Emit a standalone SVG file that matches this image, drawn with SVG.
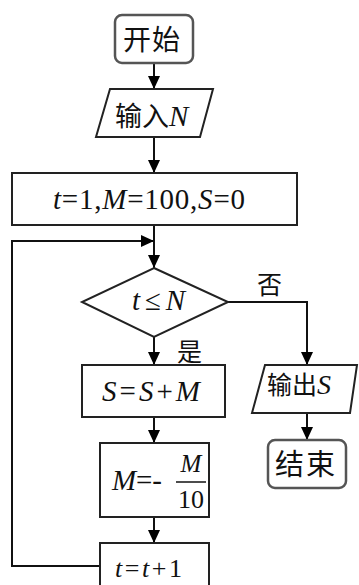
<svg xmlns="http://www.w3.org/2000/svg" width="359" height="585" viewBox="0 0 359 585">
<defs>
<marker id="ah" markerUnits="userSpaceOnUse" markerWidth="13" markerHeight="12" refX="13" refY="6" orient="auto">
<path d="M0,0 L13,6 L0,12 Z" fill="#000"/>
</marker>
<style>
.box{fill:#fff;stroke:#222;stroke-width:2}
.term{fill:#fff;stroke:#555;stroke-width:2.5}
.ln{fill:none;stroke:#111;stroke-width:2;marker-end:url(#ah)}
.cn{font-family:"Noto Sans CJK SC","Noto Sans",sans-serif;fill:#111}
.m{font-family:"Liberation Serif","Times New Roman",serif;fill:#111}
.i{font-style:italic}
</style>
</defs>
<rect width="359" height="585" fill="#fff"/>
<g id="connectors">
<path class="ln" d="M154,63 L154,89"/>
<path class="ln" d="M154,137 L154,173"/>
<path class="ln" d="M154,225 L154,268"/>
<path class="ln" d="M100,566 L12,566 L12,241 L154,241"/>
<path class="ln" d="M154,337 L154,365"/>
<path class="ln" d="M228,302 L307,302 L307,365"/>
<path class="ln" d="M154,417 L154,443"/>
<path class="ln" d="M154,517 L154,543"/>
<path class="ln" d="M307,413 L307,440"/>
</g>
<g id="start">
<rect class="term" x="115" y="15" width="78" height="48" rx="7"/>
<text class="cn" x="123" y="50" font-size="28" textLength="57">开始</text>
</g>
<g id="input">
<polygon class="box" points="110,89 213,89 200,137 96,137"/>
<text x="115" y="126" font-size="27"><tspan class="cn">输入</tspan><tspan class="m i" font-size="29">N</tspan></text>
</g>
<g id="init">
<rect class="box" x="12" y="173" width="285" height="52"/>
<text class="m" x="53" y="209" font-size="29" textLength="192" lengthAdjust="spacing"><tspan class="i">t</tspan>=1,<tspan class="i">M</tspan>=100,<tspan class="i">S</tspan>=0</text>
</g>
<g id="decision">
<polygon class="box" points="154,268 228,302 154,337 82,302"/>
<text class="m" x="132" y="310" font-size="29" textLength="53" lengthAdjust="spacing"><tspan class="i">t</tspan>≤<tspan class="i">N</tspan></text>
</g>
<text class="cn" x="257" y="294" font-size="25">否</text>
<text class="cn" x="177" y="361" font-size="25">是</text>
<g id="sum">
<rect class="box" x="82" y="365" width="143" height="52"/>
<text class="m" x="102" y="401" font-size="29" textLength="98" lengthAdjust="spacing"><tspan class="i">S</tspan>=<tspan class="i">S</tspan>+<tspan class="i">M</tspan></text>
</g>
<g id="output">
<polygon class="box" points="265,365 357,365 350,413 252,413"/>
<text x="267" y="394" font-size="25"><tspan class="cn">输出</tspan><tspan class="m i" font-size="28">S</tspan></text>
</g>
<g id="end">
<rect class="term" x="268" y="440" width="78" height="48" rx="7"/>
<text class="cn" x="275" y="475" font-size="29" textLength="60">结束</text>
</g>
<g id="update">
<rect class="box" x="100" y="443" width="109" height="74"/>
<text class="m" x="112" y="490" font-size="29" textLength="50" lengthAdjust="spacing"><tspan class="i">M</tspan>=-</text>
<text class="m i" x="191" y="472" font-size="25" text-anchor="middle">M</text>
<line x1="176" y1="482" x2="206" y2="482" stroke="#111" stroke-width="1.5"/>
<text class="m" x="191" y="508" font-size="26" text-anchor="middle">10</text>
</g>
<g id="step">
<rect class="box" x="100" y="543" width="109" height="50"/>
<text class="m" x="115" y="577" font-size="26" textLength="67" lengthAdjust="spacing"><tspan class="i">t</tspan>=<tspan class="i">t</tspan>+1</text>
</g>
</svg>
